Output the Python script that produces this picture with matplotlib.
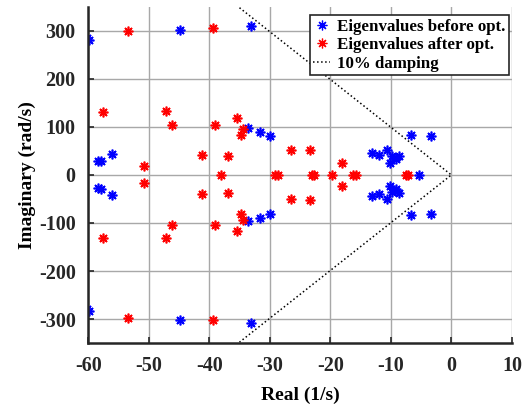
import numpy as np
import matplotlib
matplotlib.use("Agg")
import matplotlib.pyplot as plt

# eigenvalues (real part, imaginary part)
before_re = [-60.2, -59.8, -60.2, -59.8, -44.8, -44.8, -33.1, -33.1,
             -33.6, -33.6, -31.6, -31.6, -30.0, -30.0,
             -58.3, -57.8, -58.3, -57.8, -56.0, -56.0,
             -6.7, -6.7, -3.3, -3.3,
             -13.1, -12.0, -10.7, -9.8, -8.7, -10.1, -9.1,
             -13.1, -12.0, -10.7, -9.8, -8.7, -10.1, -9.1,
             -5.4]
before_im = [285, 281, -280, -284, 302, -302, 311, -309,
             97, -95, 90, -90, 82, -81,
             29, 30, -28, -29, 44, -42,
             84, -83, 82, -81,
             45, 42, 52, 40, 39, 25, 33,
             -44, -40, -51, -36, -37, -22, -29,
             0]

after_re = [-53.4, -53.4, -39.3, -39.3, -57.5, -57.5, -47.1, -47.1,
            -46.2, -46.2, -39.0, -39.0, -35.4, -35.4, -34.4, -34.4,
            -34.8, -34.8, -26.5, -26.5, -23.4, -23.4, -50.7, -50.7,
            -41.2, -41.2, -36.9, -36.9, -38.0, -29.1, -28.7,
            -18.1, -18.1, -23.1, -22.7, -19.7, -16.2, -15.8, -7.5, -7.1]
after_im = [299, -298, 305, -303, 132, -131, 134, -132,
            105, -104, 105, -104, 118, -116, 96, -93,
            83, -81, 53, -51, 53, -53, 19, -17,
            42, -40, 40, -37, 0, 0, 0,
            25, -24, 0, 0, 0, 0, 0, 0, 0]

zeta = 0.1
damp_re = [-35.0, 0.0, -35.0]

plt.rcParams['font.family'] = ['Liberation Serif', 'DejaVu Serif']
plt.rcParams['font.weight'] = 'bold'
plt.rcParams['axes.unicode_minus'] = False

fig = plt.figure(figsize=(5.31, 4.05), dpi=100)
ax = fig.add_axes([0.166, 0.153, 0.798, 0.830])

star = (8, 2, 0)
ax.plot(before_re, before_im, linestyle='none', marker=star, color='#0000ff',
        markersize=7, markeredgewidth=1.2, label='Eigenvalues before opt.')
ax.plot(after_re, after_im, linestyle='none', marker=star, color='#ff0000',
        markersize=7, markeredgewidth=1.2, label='Eigenvalues after opt.')

k = np.sqrt(1 - zeta**2) / zeta
damp_im = [-damp_re[0] * k, 0.0, damp_re[2] * k]
ax.plot(damp_re, damp_im, linestyle=':', color='black', linewidth=1.1,
        label='10% damping')

ax.set_xlim(-60, 10)
ax.set_ylim(-350, 350)
ax.set_xticks(np.arange(-60, 11, 10))
ax.set_yticks(np.arange(-300, 301, 100))
ax.grid(True, color='#a8a8a8', linewidth=1.0)
ax.set_axisbelow(True)

for s in ['top', 'right']:
    ax.spines[s].set_visible(False)
for s in ['left', 'bottom']:
    ax.spines[s].set_linewidth(1.8)
    ax.spines[s].set_color('#262626')

ax.tick_params(direction='in', length=4, width=1.2, labelsize=14.5,
               colors='#262626', pad=9)
for lab in ax.get_xticklabels() + ax.get_yticklabels():
    lab.set_fontweight('bold')

ax.set_xlabel('Real (1/s)', fontsize=14, fontweight='bold', labelpad=8)
ax.set_ylabel('Imaginary (rad/s)', fontsize=14, fontweight='bold', labelpad=2)

leg = ax.legend(loc='upper right', bbox_to_anchor=(0.993, 0.975), fontsize=12.2,
                frameon=True, fancybox=False, handlelength=1.0,
                handletextpad=0.4, borderpad=0.2, labelspacing=0.15,
                borderaxespad=0.0)
leg.get_frame().set_edgecolor('#262626')
leg.get_frame().set_linewidth(1.2)
leg.get_frame().set_alpha(1.0)
for t in leg.get_texts():
    t.set_fontweight('bold')
for h in leg.legend_handles[:2]:
    h.set_markeredgewidth(0.9)

fig.savefig('out.png', dpi=100)
